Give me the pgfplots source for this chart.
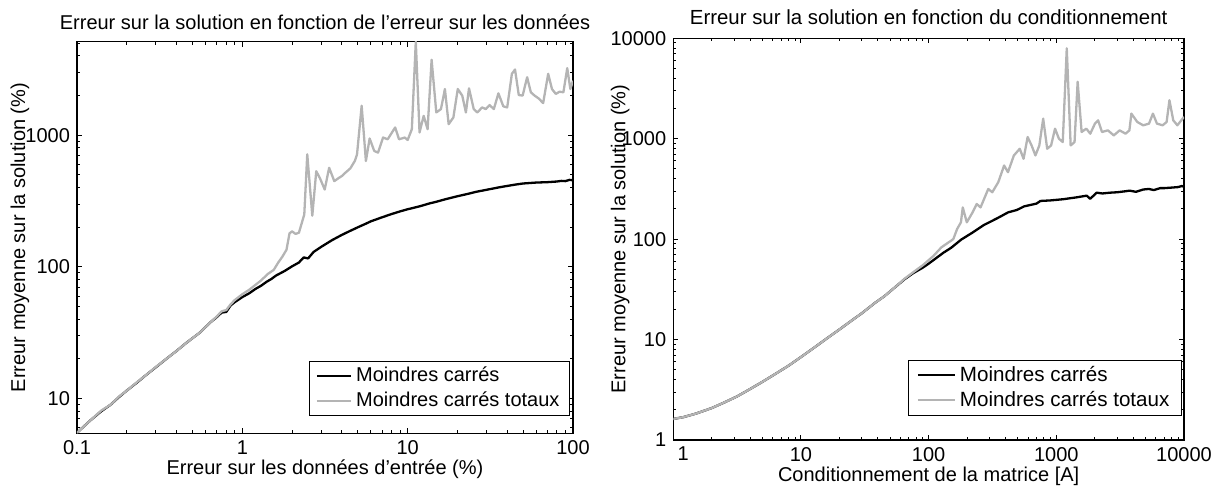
\documentclass[border=0pt]{standalone}
\usepackage{fontspec}
\setmainfont{Liberation Sans}
\usepackage{pgfplots}
\pgfplotsset{compat=1.18}
\definecolor{tlsgray}{RGB}{180,180,180}
\pgfplotsset{
    scale only axis,
    axis line style={line width=0.75pt},
    tick align=inside,
    major tick length=2.5pt,
    minor tick length=1.5pt,
    every tick/.style={black, line width=0.5pt},
    /pgf/number format/assume math mode=true,
    tick label style={font=\fontsize{10}{12}\selectfont},
    label style={font=\fontsize{10}{12}\selectfont},
    title style={font=\fontsize{10}{12}\selectfont},
    every axis title shift=0pt,
    legend cell align=left,
    legend style={font=\fontsize{10}{11.5}\selectfont, draw=black, line width=0.5pt,
      inner xsep=3pt, inner ysep=1pt, row sep=-0.5pt},
    legend image code/.code={\draw[#1] (0pt,0pt) -- (17pt,0pt);},
}
\pgfplotstableread{
x y
0.1 5.5
0.12 6.8
0.14 8.0
0.16 9.0
0.18 10.3
0.2 11.5
0.23 13.2
0.26 15.0
0.3 17.3
0.35 20.2
0.4 23
0.45 26
0.5 28.8
0.55 31.5
0.6 35
0.65 38.5
0.7 41.5
0.75 45
0.8 45.5
0.85 51
0.9 54
1.0 59
1.1 63
1.2 68
1.3 72
1.4 77
1.5 81
1.6 86
1.8 93
2.0 101
2.2 108
2.35 118
2.5 116
2.7 130
3.0 142
3.5 160
4.0 175
4.5 188
5 200
5.5 211
6 222
7 238
8 252
9 264
10 274
11 282
12 290
13.5 303
15 313
17 327
20 344
23 358
26 372
30 385
35 400
40 412
45 422
50 430
60 437
70 440
80 445
85 450
90 448
95 458
100 455
}\lsleft
\pgfplotstableread{
x y
0.1 5.5
0.12 6.8
0.14 8.1
0.16 9.0
0.18 10.4
0.2 11.5
0.23 13.3
0.26 15.0
0.3 17.4
0.35 20.2
0.4 23
0.45 26
0.5 28.8
0.55 31.5
0.6 35
0.65 38.5
0.7 42
0.75 46
0.8 47
0.85 52
0.9 56
1.0 62
1.1 67
1.2 73
1.3 79
1.42 88
1.55 95
1.65 108
1.75 120
1.85 135
1.93 180
2.0 186
2.1 178
2.2 182
2.37 250
2.47 716
2.65 245
2.8 533
2.95 470
3.15 387
3.35 566
3.6 448
3.8 470
4.0 490
4.2 519
4.5 560
4.8 640
4.94 716
5.27 1675
5.59 637
5.89 944
6.28 759
6.62 738
7.1 960
7.57 931
8.4 1145
8.87 931
9.6 960
10.0 920
10.6 1111
11.2 5130
11.8 1048
12.5 1403
13.2 1111
13.96 3740
14.9 1489
15.9 1579
16.8 2243
17.7 1213
18.9 1364
20.1 2243
21.4 1995
22.5 1489
23.5 2270
25.1 1579
26.4 1489
28.2 1626
29.7 1579
31.3 1694
33.2 1579
35.4 2080
37.9 1656
40 1626
42.7 2926
44.6 3155
47 2018
49.6 2000
52.8 2757
55.6 2118
58.7 1995
61.9 1905
66 1754
70.8 2926
74.6 2243
78.7 2059
83 2140
87.5 2118
92.3 3230
96.4 2243
100 2594
}\tlsleft
\pgfplotstableread{
x y
1 1.62
1.2 1.69
1.5 1.83
2 2.08
2.5 2.36
3.15 2.71
4 3.22
5 3.8
6.3 4.55
8 5.5
10 6.7
12.5 8.2
16 10.3
20 12.6
25 15.5
30 18.3
38 23.2
45 27
55 33.5
65 40
76 46
90 52
100 57
115 65
130 73
150 82
180 99
220 116
270 138
340 160
420 185
490 195
560 212
700 226
750 240
900 243
1140 250
1300 256
1450 261
1730 271
1840 252
2070 290
2300 285
2620 290
3000 293
3500 300
3750 304
4200 296
4800 312
5300 316
5800 308
6500 322
7000 322
8000 326
9000 330
9600 338
10000 332
}\lsright
\pgfplotstableread{
x y
1 1.62
1.2 1.69
1.5 1.83
2 2.08
2.5 2.36
3.15 2.71
4 3.22
5 3.8
6.3 4.55
8 5.5
10 6.7
12.5 8.2
16 10.3
20 12.6
25 15.5
30 18.3
38 23.2
45 27
55 33.5
65 40.5
76 47
90 55
109 68
126 83
156 100
167 126
179 147
185 207
199 147
221 185
238 224
255 207
293 316
315 293
351 369
390 541
418 464
465 681
517 794
554 631
596 1040
640 857
686 681
736 857
789 1585
848 794
910 857
977 1259
1048 1000
1123 926
1207 7943
1295 857
1389 926
1469 3690
1578 1167
1718 1259
1845 1122
2006 1413
2123 1524
2279 1167
2535 1211
2819 1079
3134 1211
3484 1122
3735 1211
3872 1778
4306 1468
4786 1360
5320 1413
5710 1778
6140 1413
6810 1360
7310 1468
7690 2415
8240 1524
8870 1360
10000 1648
}\tlsright
\begin{document}
\begin{tikzpicture}
\path[use as bounding box] (0,0) rectangle (607.5pt,243.5pt);
\begin{loglogaxis}[
  at={(38.5pt,26.85pt)}, anchor=south west,
  width=248pt, height=195.8pt,
  xmin=0.1, xmax=100, ymin=5.45, ymax=5130,
  xtick={0.1,1,10,100}, xticklabels={0.1,1,10,100},
  minor xtick={0.2,0.3,0.4,0.5,0.6,0.7,0.8,0.9,2,3,4,5,6,7,8,9,20,30,40,50,60,70,80,90},
  ytick={10,100,1000}, yticklabels={10,100,1000},
  minor ytick={6,7,8,9,20,30,40,50,60,70,80,90,200,300,400,500,600,700,800,900,2000,3000,4000,5000},
  title={Erreur sur la solution en fonction de l’erreur sur les données},
  title style={at={(0.5,1)}, anchor=base, yshift=6.2pt},
  xlabel={Erreur sur les données d’entrée (\%)},
  xlabel style={at={(axis description cs:0.5,0)}, anchor=base, yshift=-20.8pt},
  ylabel={Erreur moyenne sur la solution (\%)},
  ylabel style={at={(axis description cs:-0.115,0.5)}, anchor=center},
  legend style={at={(rel axis cs:0.994,0.044)}, anchor=south east},
]
\addplot[black, line width=1.15pt, line join=round] table[x=x,y=y] {\lsleft};
\addlegendentry{Moindres carrés}
\addplot[tlsgray, line width=1.15pt, line join=round] table[x=x,y=y] {\tlsleft};
\addlegendentry{Moindres carrés totaux}
\end{loglogaxis}
\begin{loglogaxis}[
  at={(336.65pt,23.5pt)}, anchor=south west,
  width=255.35pt, height=200.85pt,
  xmin=1, xmax=10000, ymin=1, ymax=10000,
  xtick={1,10,100,1000,10000}, xticklabels={\hspace{10pt}1,10,100,1000,10000},
  minor xtick={2,3,4,5,6,7,8,9,20,30,40,50,60,70,80,90,200,300,400,500,600,700,800,900,2000,3000,4000,5000,6000,7000,8000,9000},
  ytick={1,10,100,1000,10000}, yticklabels={1,10,100,1000,10000},
  minor ytick={2,3,4,5,6,7,8,9,20,30,40,50,60,70,80,90,200,300,400,500,600,700,800,900,2000,3000,4000,5000,6000,7000,8000,9000},
  title={Erreur sur la solution en fonction du conditionnement},
  title style={at={(0.5,1)}, anchor=base, yshift=6.7pt, font=\fontsize{10.2}{12}\selectfont},
  xlabel={Conditionnement de la matrice [A]},
  xlabel style={at={(axis description cs:0.5,0)}, anchor=base, yshift=-20.8pt},
  ylabel={Erreur moyenne sur la solution (\%)},
  ylabel style={at={(axis description cs:-0.104,0.5)}, anchor=center},
  legend style={at={(rel axis cs:0.996,0.06)}, anchor=south east, font=\fontsize{10.3}{11.8}\selectfont, inner xsep=4pt},
  legend image code/.code={\draw[#1] (0pt,0pt) -- (18.5pt,0pt);},
]
\addplot[black, line width=1.15pt, line join=round] table[x=x,y=y] {\lsright};
\addlegendentry{Moindres carrés}
\addplot[tlsgray, line width=1.15pt, line join=round] table[x=x,y=y] {\tlsright};
\addlegendentry{Moindres carrés totaux}
\end{loglogaxis}
\end{tikzpicture}
\end{document}
